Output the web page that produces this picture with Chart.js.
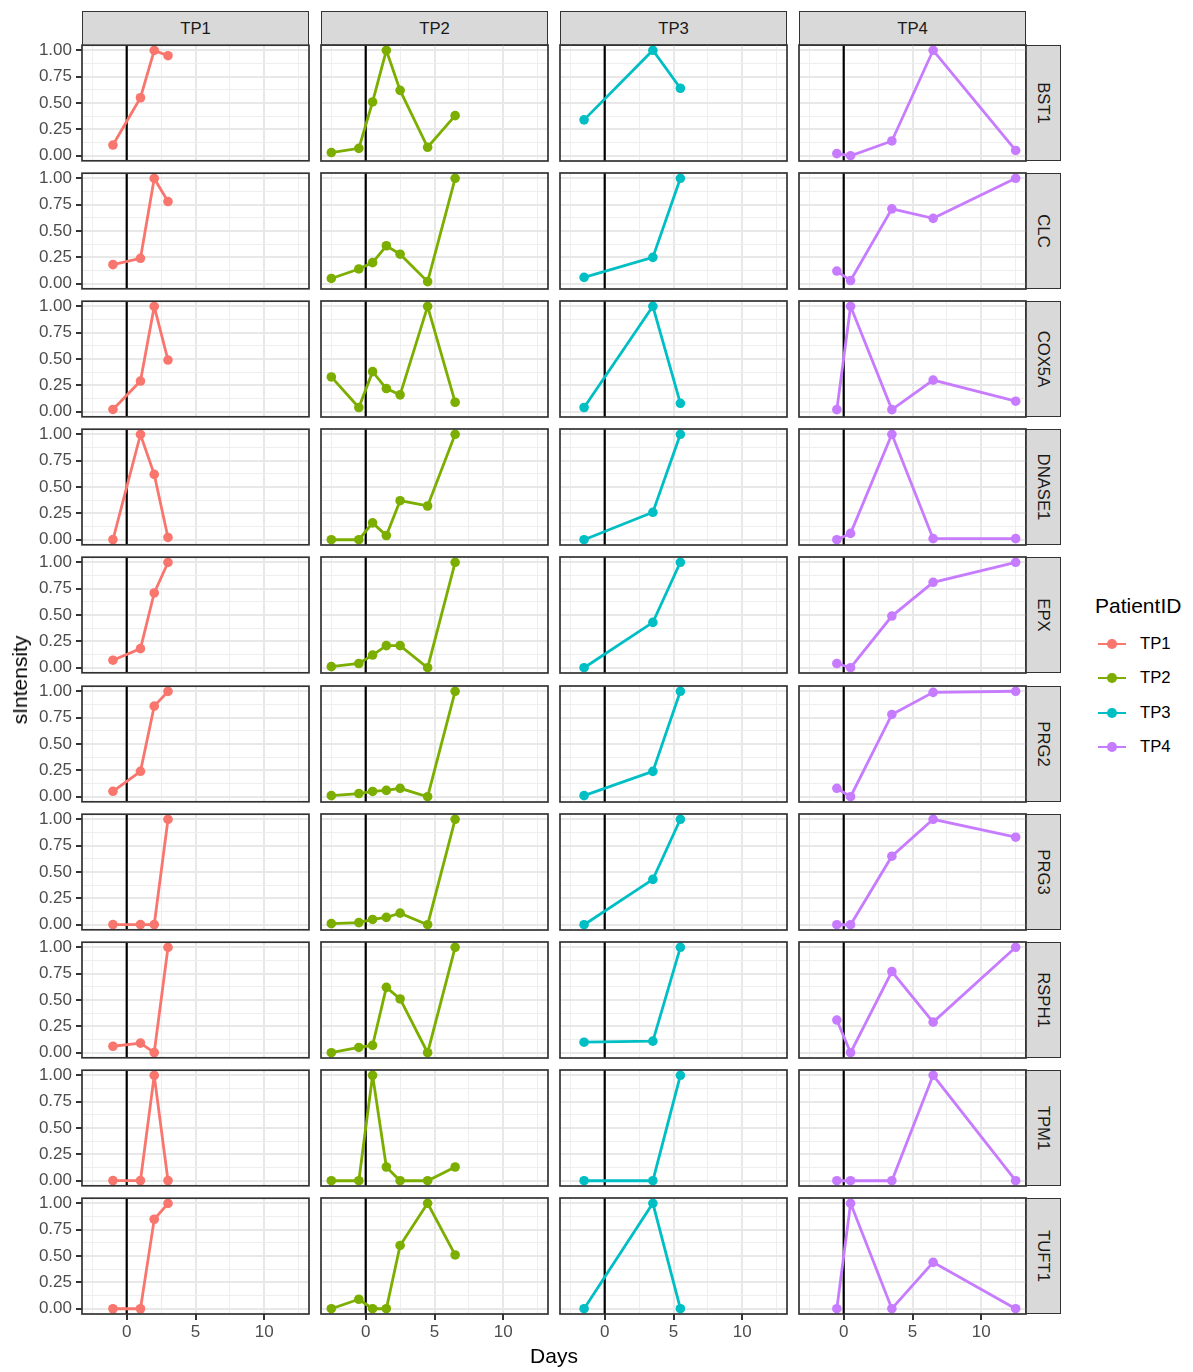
<!DOCTYPE html>
<html>
<head>
<meta charset="utf-8">
<script src="https://cdn.jsdelivr.net/npm/chart.js@4.4.0/dist/chart.umd.min.js"></script>
<style>
  html, body { margin: 0; background: #fff; }
  body { width: 1193px; height: 1372px; position: relative; overflow: hidden;
         font-family: "Liberation Sans", Arial, sans-serif; }
  canvas { position: absolute; }
  .strip { position: absolute; box-sizing: border-box; background: #D9D9D9; border: 1.6px solid #333;
           display: flex; align-items: center; justify-content: center; color: #1A1A1A; font-size: 16.7px; }
  .strip.right span { transform: rotate(90deg); white-space: nowrap; }
  .title { position: absolute; color: #000; font-size: 21px; white-space: nowrap; }
  .legend-item { position: absolute; font-size: 16.7px; color: #000; }
</style>
</head>
<body>
<script>
// facets
const genes = ['BST1', 'CLC', 'COX5A', 'DNASE1', 'EPX', 'PRG2', 'PRG3', 'RSPH1', 'TPM1', 'TUFT1'];
const patients = ['TP1', 'TP2', 'TP3', 'TP4'];
const patientColors = ['#F8766D', '#7CAE00', '#00BFC4', '#C77CFF'];

// sampling days per patient
const daysTP1 = [-1, 1, 2, 3];
const daysTP2 = [-2.5, -0.5, 0.5, 1.5, 2.5, 4.5, 6.5];
const daysTP3 = [-1.5, 3.5, 5.5];
const daysTP4 = [-0.5, 0.5, 3.5, 6.5, 12.5];

// sIntensity per gene (rows in the order of genes)
const tp1Values = [
  [0.10, 0.55, 1.00, 0.95],
  [0.18, 0.24, 1.00, 0.78],
  [0.02, 0.29, 1.00, 0.49],
  [0.00, 1.00, 0.62, 0.02],
  [0.07, 0.18, 0.71, 1.00],
  [0.05, 0.24, 0.86, 1.00],
  [0.00, 0.00, 0.00, 1.00],
  [0.06, 0.09, 0.00, 1.00],
  [0.00, 0.00, 1.00, 0.00],
  [0.00, 0.00, 0.85, 1.00]
];
const tp2Values = [
  [0.03, 0.07, 0.51, 1.00, 0.62, 0.08, 0.38],
  [0.05, 0.14, 0.20, 0.36, 0.28, 0.02, 1.00],
  [0.33, 0.04, 0.38, 0.22, 0.16, 1.00, 0.09],
  [0.00, 0.00, 0.16, 0.04, 0.37, 0.32, 1.00],
  [0.01, 0.04, 0.12, 0.21, 0.21, 0.00, 1.00],
  [0.01, 0.03, 0.05, 0.06, 0.08, 0.00, 1.00],
  [0.01, 0.02, 0.05, 0.07, 0.11, 0.00, 1.00],
  [0.00, 0.05, 0.07, 0.62, 0.51, 0.00, 1.00],
  [0.00, 0.00, 1.00, 0.13, 0.00, 0.00, 0.13],
  [0.00, 0.09, 0.00, 0.00, 0.60, 1.00, 0.51]
];
const tp3Values = [
  [0.34, 1.00, 0.64],
  [0.06, 0.25, 1.00],
  [0.04, 1.00, 0.08],
  [0.00, 0.26, 1.00],
  [0.00, 0.43, 1.00],
  [0.01, 0.24, 1.00],
  [0.00, 0.43, 1.00],
  [0.10, 0.11, 1.00],
  [0.00, 0.00, 1.00],
  [0.00, 1.00, 0.00]
];
const tp4Values = [
  [0.02, 0.00, 0.14, 1.00, 0.05],
  [0.12, 0.03, 0.71, 0.62, 1.00],
  [0.02, 1.00, 0.02, 0.30, 0.10],
  [0.00, 0.06, 1.00, 0.01, 0.01],
  [0.04, 0.00, 0.49, 0.81, 1.00],
  [0.08, 0.00, 0.78, 0.99, 1.00],
  [0.00, 0.00, 0.65, 1.00, 0.83],
  [0.31, 0.00, 0.77, 0.29, 1.00],
  [0.00, 0.00, 0.00, 1.00, 0.00],
  [0.00, 1.00, 0.00, 0.44, 0.00]
];

// ticks / breaks
const xTickLabels = [0, 5, 10];
const xMinor = [-2.5, 2.5, 7.5, 12.5];
const yTickLabels = [0, 0.25, 0.5, 0.75, 1];
const yMinor = [0.125, 0.375, 0.625, 0.875];
const vlineAt = 0;

const allDays = [daysTP1, daysTP2, daysTP3, daysTP4];
const allValues = [tp1Values, tp2Values, tp3Values, tp4Values];

Chart.defaults.font.family = '"Liberation Sans", Arial, sans-serif';

const M = 14, YW = 56, XH = 34, PW = 227, PH = 116;
const colX = [82, 321, 560, 799];
const rowY = genes.map((g, r) => Math.round(45 + r * 128.1));

const isIn = (v, list) => list.some(t => Math.abs(t - v) < 1e-9);

const panelFrame = {
  id: 'panelFrame',
  afterDraw(chart) {
    const a = chart.chartArea, c = chart.ctx;
    c.save();
    c.strokeStyle = '#333333';
    c.lineWidth = 1.7;
    c.strokeRect(a.left, a.top, a.right - a.left, a.bottom - a.top);
    c.restore();
  }
};

function addDiv(cls, text, css) {
  const d = document.createElement('div');
  d.className = cls;
  if (text != null) {
    const s = document.createElement('span');
    s.textContent = text;
    d.appendChild(s);
  }
  Object.assign(d.style, css);
  document.body.appendChild(d);
  return d;
}

function makePanel(col, row) {
  const left = col === 0, bottom = row === genes.length - 1;
  const cv = document.createElement('canvas');
  const w = PW + 2 * M + (left ? YW : 0);
  const h = PH + 2 * M + (bottom ? XH : 0);
  cv.width = w; cv.height = h;
  cv.style.left = (colX[col] - M - (left ? YW : 0)) + 'px';
  cv.style.top = (rowY[row] - M) + 'px';
  cv.style.width = w + 'px'; cv.style.height = h + 'px';
  document.body.appendChild(cv);

  const color = patientColors[col];
  const days = allDays[col];
  const vals = allValues[col][row];

  new Chart(cv, {
    type: 'line',
    data: {
      datasets: [
        {
          data: days.map((d, i) => ({ x: d, y: vals[i] })),
          borderColor: color, backgroundColor: color, pointBackgroundColor: color,
          borderWidth: 2.8, pointRadius: 4.8, pointBorderWidth: 0, tension: 0, order: 1
        },
        {
          data: [{ x: vlineAt, y: -1 }, { x: vlineAt, y: 2 }],
          borderColor: '#000000', borderWidth: 2.2, pointRadius: 0, order: 2
        }
      ]
    },
    options: {
      responsive: false, animation: false, events: [],
      layout: { padding: { left: M, right: M, top: M, bottom: M } },
      plugins: { legend: { display: false }, tooltip: { enabled: false } },
      scales: {
        x: {
          type: 'linear', min: -3.25, max: 13.25, bounds: 'data',
          afterBuildTicks: s => { s.ticks = xTickLabels.concat(xMinor).sort((a, b) => a - b).map(v => ({ value: v })); },
          afterFit: s => { s.height = bottom ? XH : 0; },
          border: { display: false },
          grid: {
            color: c => (c.tick && isIn(c.tick.value, xTickLabels)) ? '#E8E8E8' : '#EEEEEE',
            lineWidth: c => (c.tick && isIn(c.tick.value, xTickLabels)) ? 2 : 1,
            drawTicks: bottom, tickLength: 6, tickWidth: 2,
            tickColor: c => (c.tick && isIn(c.tick.value, xTickLabels)) ? '#333333' : 'rgba(0,0,0,0)'
          },
          ticks: {
            display: bottom, autoSkip: false, maxRotation: 0, minRotation: 0, padding: 2,
            color: '#4D4D4D', font: { size: 17 },
            callback: v => isIn(v, xTickLabels) ? String(v) : ''
          }
        },
        y: {
          type: 'linear', min: -0.05, max: 1.05, bounds: 'data',
          afterBuildTicks: s => { s.ticks = yTickLabels.concat(yMinor).sort((a, b) => a - b).map(v => ({ value: v })); },
          afterFit: s => { s.width = left ? YW : 0; },
          border: { display: false },
          grid: {
            color: c => (c.tick && isIn(c.tick.value, yTickLabels)) ? '#E8E8E8' : '#EEEEEE',
            lineWidth: c => (c.tick && isIn(c.tick.value, yTickLabels)) ? 2 : 1,
            drawTicks: left, tickLength: 6, tickWidth: 2,
            tickColor: c => (c.tick && isIn(c.tick.value, yTickLabels)) ? '#333333' : 'rgba(0,0,0,0)'
          },
          ticks: {
            display: left, autoSkip: false, padding: 4,
            color: '#4D4D4D', font: { size: 17 },
            callback: v => isIn(v, yTickLabels) ? v.toFixed(2) : ''
          }
        }
      }
    },
    plugins: [panelFrame]
  });
}

// top strips
patients.forEach((p, col) => {
  addDiv('strip', p, { left: colX[col] + 'px', top: '11px', width: PW + 'px', height: '35px' });
});
// right strips
genes.forEach((g, row) => {
  addDiv('strip right', g, { left: (colX[3] + PW - 1) + 'px', top: rowY[row] + 'px', width: '36px', height: PH + 'px' });
});

for (let row = 0; row < genes.length; row++) {
  for (let col = 0; col < patients.length; col++) makePanel(col, row);
}

// axis titles
const xt = addDiv('title', 'Days', {});
xt.style.left = (colX[0] + (colX[3] + PW - colX[0]) / 2) + 'px';
xt.style.top = '1356px';
xt.style.transform = 'translate(-50%, -50%)';
const yt = addDiv('title', 'sIntensity', {});
yt.style.left = '20px';
yt.style.top = ((rowY[0] + rowY[genes.length - 1] + PH) / 2) + 'px';
yt.style.transform = 'translate(-50%, -50%) rotate(-90deg)';

// legend
const lt = addDiv('title', 'PatientID', {});
lt.style.left = '1095px';
lt.style.top = '606px';
lt.style.transform = 'translateY(-50%)';
const legendY = [644, 678, 713, 747];
patients.forEach((p, i) => {
  const y = legendY[i];
  const line = document.createElement('div');
  Object.assign(line.style, { position: 'absolute', left: '1098px', top: (y - 1.4) + 'px', width: '28px', height: '2.8px', background: patientColors[i] });
  document.body.appendChild(line);
  const dot = document.createElement('div');
  Object.assign(dot.style, { position: 'absolute', left: (1112 - 4.8) + 'px', top: (y - 4.8) + 'px', width: '9.6px', height: '9.6px', borderRadius: '50%', background: patientColors[i] });
  document.body.appendChild(dot);
  const lab = addDiv('legend-item', p, {});
  lab.style.left = '1140px';
  lab.style.top = y + 'px';
  lab.style.transform = 'translateY(-50%)';
});
</script>
</body>
</html>
